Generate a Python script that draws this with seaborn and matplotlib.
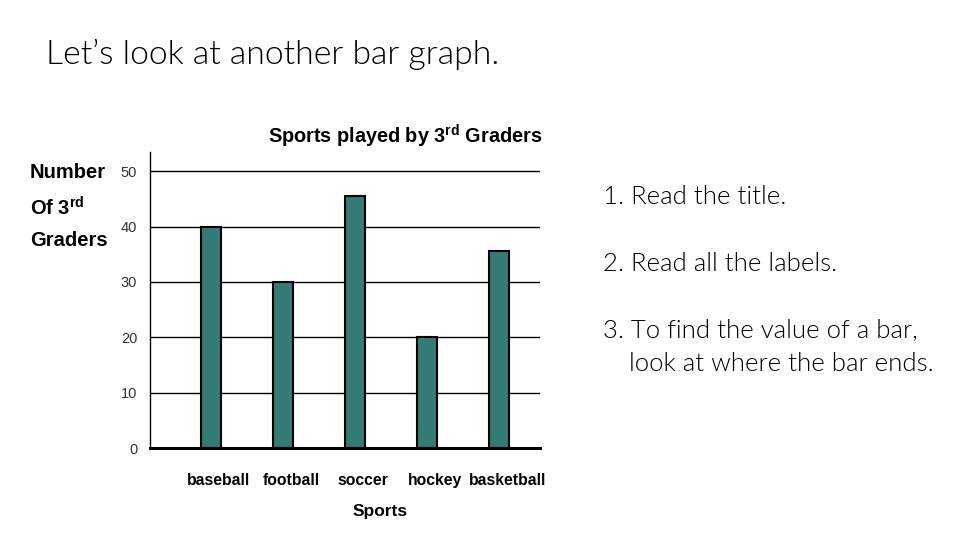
import numpy as np
import matplotlib
matplotlib.use("Agg")
import matplotlib.pyplot as plt
import matplotlib.transforms as mtransforms
import seaborn as sns
import pandas as pd

# data
sports = ["baseball", "football", "soccer", "hockey", "basketball"]
players = [40, 30, 45.5, 20, 35.5]
yticks = [0, 10, 20, 30, 40, 50]

df = pd.DataFrame({"sport": sports, "players": players})

sns.set_style("white")
plt.rcParams["font.family"] = ["Liberation Sans", "DejaVu Sans"]
plt.rcParams["mathtext.default"] = "regular"
plt.rcParams["text.color"] = "black"

fig = plt.figure(figsize=(9.6, 5.4), dpi=100)
ax = fig.add_axes([0.156, 0.170, 0.407, 0.548])

sns.barplot(data=df, x="sport", y="players", color="#347b76", saturation=1,
            edgecolor="black", linewidth=1.5, width=0.28, ax=ax)

ax.set_xlim(-0.85, 4.57)
ax.set_ylim(0, 53.4)
ax.set_yticks(yticks)
ax.set_yticklabels([str(t) for t in yticks])
ax.set_axisbelow(True)
for t in yticks[1:]:
    ax.axhline(t, color="black", lw=1, zorder=0)

sns.despine(ax=ax, top=True, right=True)
ax.spines["left"].set_color("black")
ax.spines["left"].set_linewidth(1)
ax.spines["bottom"].set_color("black")
ax.spines["bottom"].set_linewidth(2.2)

ax.tick_params(axis="y", length=0, pad=9, labelsize=10.5, labelcolor="#333333")
ax.tick_params(axis="x", length=0, pad=18, labelsize=11.3, labelcolor="black")
# labels in the original sit a little right of the bars
shift = mtransforms.ScaledTranslation(8 / 100, 0, fig.dpi_scale_trans)
for lbl in ax.get_xticklabels():
    lbl.set_fontweight("bold")
    lbl.set_transform(lbl.get_transform() + shift)

ax.set_xlabel("Sports", fontsize=12.5, fontweight="bold", color="black")
ax.xaxis.set_label_coords(0.59, -0.19)
ax.set_ylabel("")

fig.text(0.422, 0.748, "Sports played by 3$^{rd}$ Graders", ha="center", va="center",
         fontsize=14.3, fontweight="bold")
fig.text(0.031, 0.618, "Number\nOf 3$^{rd}$\nGraders", ha="left", va="center",
         fontsize=14.5, fontweight="bold", linespacing=1.75)

# slide text
fig.text(0.048, 0.9, "Let\u2019s look at another bar graph.", ha="left", va="center",
         fontsize=24.3, family=["Lato", "DejaVu Sans"], fontweight=300, color="black")
notes = [(0.628, 0.635, "1. Read the title."),
         (0.628, 0.511, "2. Read all the labels."),
         (0.628, 0.387, "3. To find the value of a bar,"),
         (0.655, 0.326, "look at where the bar ends.")]
for x, y, s in notes:
    fig.text(x, y, s, ha="left", va="center", fontsize=18.5,
             family=["Lato", "DejaVu Sans"], fontweight=300, color="black")

fig.savefig("out.png", dpi=100)
